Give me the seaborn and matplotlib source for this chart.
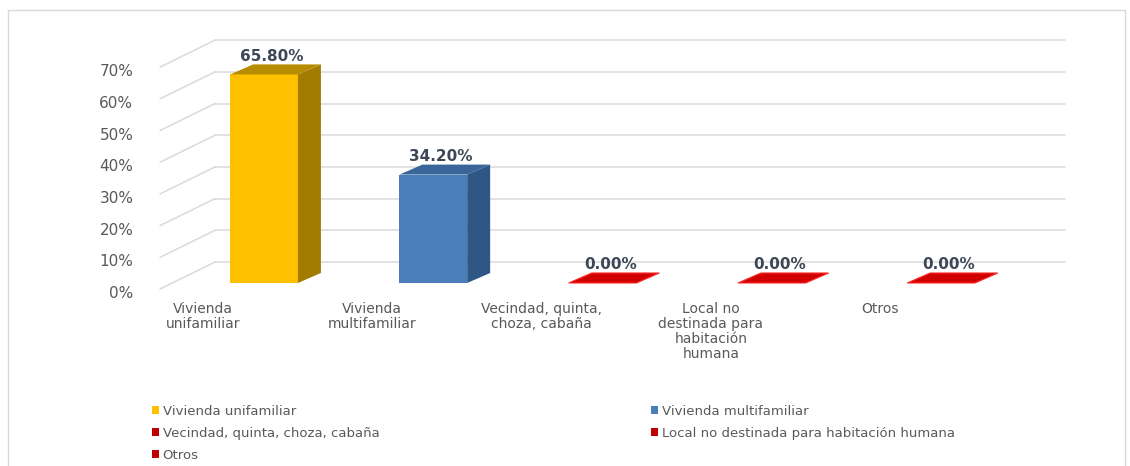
import numpy as np
import matplotlib
matplotlib.use("Agg")
import matplotlib.pyplot as plt
from matplotlib.patches import Polygon, Patch, Rectangle
import seaborn as sns

# ── Datos ──────────────────────────────────────────────────────────────────────
categorias = ["Vivienda unifamiliar", "Vivienda multifamiliar",
              "Vecindad, quinta, choza, cabaña",
              "Local no destinada para habitación humana", "Otros"]
etiquetas_x = ["Vivienda\nunifamiliar", "Vivienda\nmultifamiliar",
               "Vecindad, quinta,\nchoza, cabaña",
               "Local no\ndestinada para\nhabitación\nhumana", "Otros"]
porcentajes = [0.658, 0.342, 0.0, 0.0, 0.0]
etiquetas_valor = ["65.80%", "34.20%", "0.00%", "0.00%", "0.00%"]
ticks_y = [0.0, 0.1, 0.2, 0.3, 0.4, 0.5, 0.6, 0.7]
etiquetas_y = ["0%", "10%", "20%", "30%", "40%", "50%", "60%", "70%"]

colores = ["#FFC000", "#4A7EBB", "#C00000", "#C00000", "#C00000"]
colores_lado = ["#A27C00", "#2F5786", "#9A0000", "#9A0000", "#9A0000"]
colores_tapa = ["#B88C00", "#3A6599", "#D00000", "#D00000", "#D00000"]

# ── Estilo ─────────────────────────────────────────────────────────────────────
sns.set_style("white")
plt.rcParams["font.family"] = ["DejaVu Sans"]

W, H = 1130, 466
fig = plt.figure(figsize=(W / 100, H / 100), dpi=100)

# eje en píxeles: x 150..1070, y 30..296 (desde arriba)
ax = fig.add_axes([150 / W, 1 - 296 / H, 920 / W, 266 / H])

# profundidad del "3D" en unidades de datos
px_x = 169.25      # px por categoría
px_y = 317.0       # px por 100%
prof_dx, prof_dy = 23 / px_x, 10 / px_y        # barras
pared_dy = 21 / px_y                           # pared del fondo
x_pared0 = (215 - 264) / px_x
x_pared1 = (1065 - 264) / px_x
x_frente = (160 - 264) / px_x
y_frente = -6 / px_y

# rejilla: pared del fondo y pared lateral
for v in ticks_y:
    ax.plot([x_pared0, x_pared1], [v + pared_dy] * 2, color="#DADADA", lw=1.1, zorder=0)
    ax.plot([x_frente, x_pared0], [v + y_frente, v + pared_dy], color="#DADADA", lw=1.1, zorder=0)

sns.barplot(x=categorias, y=porcentajes, hue=categorias, palette=colores,
            width=0.4, saturation=1, legend=False, ax=ax, zorder=3)

for i, p in enumerate(ax.patches):
    x0, w, h = p.get_x(), p.get_width(), p.get_height()
    p.set_linewidth(0)
    lado = Polygon([(x0 + w, 0), (x0 + w + prof_dx, prof_dy),
                    (x0 + w + prof_dx, h + prof_dy), (x0 + w, h)],
                   closed=True, facecolor=colores_lado[i], edgecolor="none", zorder=3)
    tapa = Polygon([(x0, h), (x0 + prof_dx, h + prof_dy),
                    (x0 + w + prof_dx, h + prof_dy), (x0 + w, h)],
                   closed=True, facecolor=colores_tapa[i],
                   edgecolor="#FF2A2A" if h == 0 else "none",
                   lw=0.8, zorder=4)
    ax.add_patch(lado)
    ax.add_patch(tapa)
    ax.text(x0 + w / 2 + prof_dx / 3, h + prof_dy + 0.002, etiquetas_valor[i],
            ha="center", va="bottom", fontsize=11, fontweight="bold",
            color="#3E4756", zorder=5)

ax.set_xlim(-0.674, 4.762)
ax.set_ylim(-13 / px_y, 253 / px_y)

ax.set_xticks(np.arange(len(categorias)) - 0.36, etiquetas_x)
ax.set_yticks(np.array(ticks_y) + y_frente - 0.01, etiquetas_y)
ax.tick_params(axis="x", length=0, pad=4, labelsize=10, labelcolor="#595959")
ax.tick_params(axis="y", length=0, pad=12, labelsize=11, labelcolor="#595959")
for lab in ax.get_xticklabels():
    lab.set_linespacing(1.1)
sns.despine(ax=ax, left=True, bottom=True)
ax.set_xlabel("")
ax.set_ylabel("")

# leyenda (orden por columnas)
handles = [Patch(facecolor=c, edgecolor="none") for c in colores]
orden = [0, 2, 4, 1, 3]
leg = fig.legend([handles[k] for k in orden], [categorias[k] for k in orden],
                 ncol=2, loc="upper left", bbox_to_anchor=(152 / W, 1 - 405 / H),
                 frameon=False, fontsize=9.5, handlelength=0.55, handleheight=0.55,
                 handletextpad=0.25, columnspacing=20.6, labelspacing=0.68,
                 borderpad=0, borderaxespad=0)
for t in leg.get_texts():
    t.set_color("#595959")

# marco exterior del gráfico
fig.add_artist(Rectangle((8 / W, -0.02), 1 - 13 / W, 1 - 10 / H + 0.02,
                         transform=fig.transFigure, fill=False,
                         edgecolor="#D9D9D9", lw=1))

fig.savefig("out.png", dpi=100)
